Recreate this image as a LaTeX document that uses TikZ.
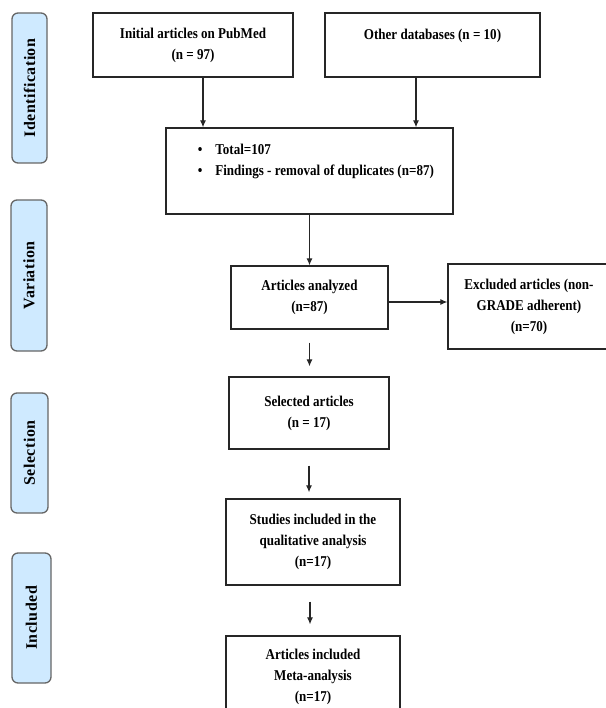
\documentclass[tikz,border=0pt]{standalone}
\usepackage{fontspec}
\setmainfont{Liberation Serif}[FakeStretch=0.87]
\newfontfamily\sidefont{Liberation Serif}[LetterSpace=3]
\usetikzlibrary{positioning,arrows.meta}
\definecolor{sideblue}{HTML}{CFEAFF}

\begin{document}
\begin{tikzpicture}[x=1pt, y=-1pt,
    % Stili per i box del flusso
    flowbox/.style={
        rectangle,
        draw=black!85,
        line width=1.3pt,
        align=center,
        inner sep=0pt,
        font=\fontsize{15}{21}\selectfont\bfseries
    },
    % Stili per le fasi laterali
    phase/.style={
        rectangle,
        rounded corners=6pt,
        draw=black!60,
        line width=1.3pt,
        fill=sideblue,
        inner sep=0pt,
        rotate=90,
        font=\sidefont\fontsize{16}{18}\selectfont\bfseries
    },
    % Stili per le frecce
    arrow/.style={-{Latex[length=7pt,width=6pt]}, line width=1.1pt, color=black!85}
]
\useasboundingbox (0,0) rectangle (605,708);

% Fasi a sinistra
\node[phase, minimum width=150pt, minimum height=35pt] (ident) at (29.5,88) {Identification};
\node[phase, minimum width=151pt, minimum height=36pt] (variation) at (29,275.5) {Variation};
\node[phase, minimum width=120pt, minimum height=37pt] (selection) at (29.5,453) {Selection};
\node[phase, minimum width=130pt, minimum height=39pt] (included) at (31.5,618) {Included};

% IDENTIFICAZIONE
\node[flowbox, minimum width=200pt, minimum height=64pt] (pubmed) at (193,45) {Initial articles on PubMed\\(n = 97)};
\node[flowbox, minimum width=215pt, minimum height=64pt] (otherdb) at (432.5,45) {Other databases (n = 10)\\\mbox{}};

\node[flowbox, minimum width=287pt, minimum height=86pt] (total) at (309.5,171) {
    \begin{tabular}{@{\hspace{16pt}}c@{\hspace{13pt}}l@{}}
        \textbullet & Total=107\\
        \textbullet & Findings - removal of duplicates (n=87)\\
        & \\
    \end{tabular}
};

% VARIAZIONE
\node[flowbox, minimum width=157pt, minimum height=63pt] (analyzed) at (309.5,297.5) {Articles analyzed\\(n=87)};
\node[flowbox, minimum width=162pt, minimum height=85pt] (excluded) at (529,306.5) {Excluded articles (non-\\GRADE adherent)\\(n=70)};

% SELEZIONE
\node[flowbox, minimum width=160pt, minimum height=72pt] (selected) at (309,413) {Selected articles\\(n = 17)};

% INCLUSI
\node[flowbox, minimum width=174pt, minimum height=86pt] (studies) at (313,542) {Studies included in the\\qualitative analysis\\(n=17)};
\node[flowbox, minimum width=174pt, minimum height=82pt] (meta) at (313,677) {Articles included\\Meta-analysis\\(n=17)};

% Frecce
\draw[arrow] ([xshift=10pt]pubmed.south) -- ([xshift=10pt]pubmed.south |- total.north);
\draw[arrow] ([xshift=-16.5pt]otherdb.south) -- ([xshift=-16.5pt]otherdb.south |- total.north);
\draw[arrow] (total.south) -- (total.south |- analyzed.north);
\draw[arrow] ([yshift=-4.5pt]analyzed.east) -- ([yshift=-4.5pt]analyzed.east -| excluded.west);
\draw[arrow, shorten <=13pt, shorten >=10pt] (analyzed.south) -- (analyzed.south |- selected.north);
\draw[arrow, shorten <=16pt, shorten >=6pt] (selected.south) -- (selected.south |- studies.north);
\draw[arrow, shorten <=16pt, shorten >=11pt] ([xshift=-3pt]studies.south) -- ([xshift=-3pt]studies.south |- meta.north);

\end{tikzpicture}
\end{document}
